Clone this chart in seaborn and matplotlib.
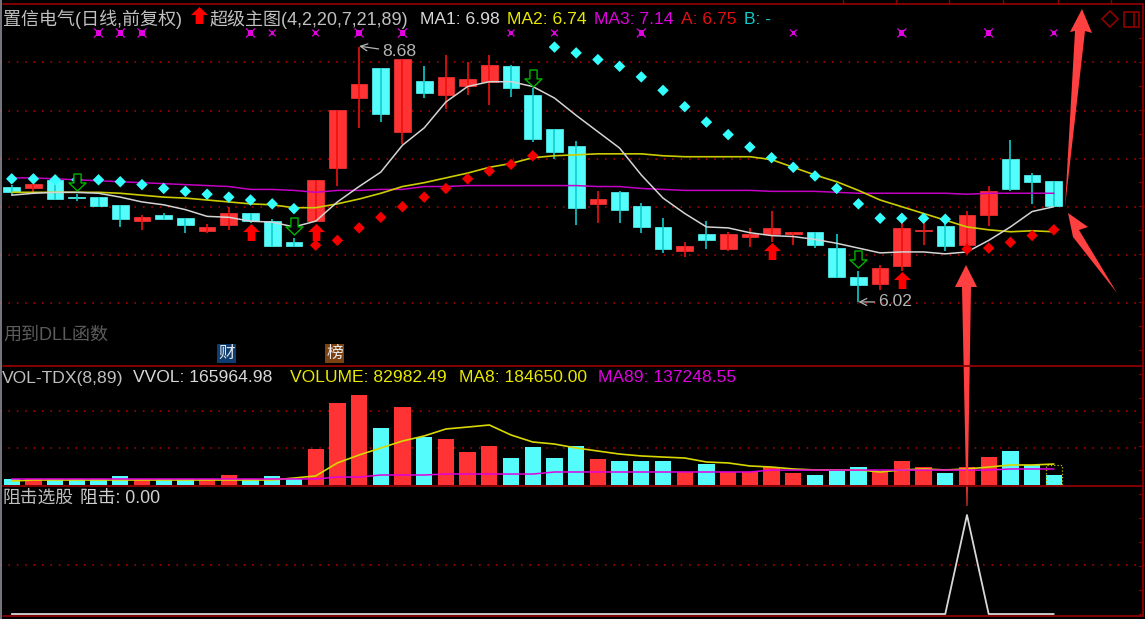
#import the neccessary libraries
import pandas as pd
import matplotlib
matplotlib.use('Agg')
import matplotlib.pyplot as plt
from matplotlib.path import Path
from matplotlib.patches import Polygon, Rectangle
import seaborn as sns

# daily candles
open_px = [7.23, 7.21, 7.30, 7.12, 7.12, 7.04, 6.87, 6.93, 6.90, 6.77,
           6.83, 6.95, 6.87, 6.65, 6.87, 7.42, 8.15, 8.46, 7.80, 8.33,
           8.18, 8.28, 8.32, 8.48, 8.18, 7.83, 7.65, 7.05, 7.17, 7.03,
           6.81, 6.56, 6.74, 6.58, 6.71, 6.74, 6.74, 6.76, 6.59, 6.29,
           6.22, 6.40, 6.77, 6.82, 6.62, 6.93, 7.52, 7.35, 7.29]
close_px = [7.17, 7.26, 7.10, 7.11, 7.03, 6.89, 6.91, 6.89, 6.83, 6.81,
            6.96, 6.87, 6.61, 6.61, 7.30, 8.03, 8.30, 7.98, 8.56, 8.20,
            8.37, 8.35, 8.49, 8.25, 7.72, 7.59, 7.01, 7.10, 6.99, 6.81,
            6.58, 6.61, 6.67, 6.74, 6.74, 6.80, 6.76, 6.62, 6.29, 6.21,
            6.38, 6.80, 6.78, 6.61, 6.93, 7.18, 7.20, 7.28, 7.03]
high_px = [7.25, 7.26, 7.33, 7.15, 7.12, 7.04, 6.93, 6.96, 6.90, 6.84,
           7.02, 6.95, 6.89, 6.70, 7.30, 8.03, 8.68, 8.46, 8.56, 8.48,
           8.60, 8.53, 8.60, 8.49, 8.25, 7.83, 7.70, 7.18, 7.18, 7.06,
           6.90, 6.65, 6.87, 6.76, 6.80, 6.98, 6.76, 6.76, 6.74, 6.35,
           6.41, 6.91, 6.90, 6.85, 6.98, 7.24, 7.71, 7.37, 7.29]
low_px = [7.14, 7.17, 7.09, 7.08, 7.02, 6.81, 6.78, 6.89, 6.75, 6.75,
          6.78, 6.85, 6.61, 6.60, 6.87, 7.24, 7.84, 7.90, 7.67, 8.15,
          8.04, 8.18, 8.08, 8.16, 7.69, 7.52, 6.83, 6.85, 6.85, 6.75,
          6.54, 6.50, 6.58, 6.56, 6.60, 6.65, 6.62, 6.59, 6.28, 6.03,
          6.15, 6.35, 6.62, 6.56, 6.53, 6.82, 7.18, 7.05, 7.02]

ma1 = [7.14, 7.16, 7.17, 7.17, 7.16, 7.12, 7.07, 7.04, 6.99, 6.92,
       6.91, 6.87, 6.86, 6.81, 6.87, 7.07, 7.23, 7.38, 7.66, 7.84,
       8.11, 8.27, 8.32, 8.32, 8.27, 8.15, 7.97, 7.80, 7.63, 7.35,
       7.11, 6.95, 6.81, 6.80, 6.75, 6.72, 6.71, 6.68, 6.64, 6.59,
       6.54, 6.55, 6.55, 6.53, 6.55, 6.67, 6.81, 6.97, 7.02]
ma2 = [7.17, 7.17, 7.17, 7.17, 7.17, 7.16, 7.14, 7.12, 7.11, 7.09,
       7.07, 7.05, 7.04, 7.01, 7.01, 7.05, 7.10, 7.16, 7.23, 7.27,
       7.32, 7.37, 7.43, 7.47, 7.53, 7.55, 7.56, 7.57, 7.57, 7.57,
       7.55, 7.54, 7.54, 7.54, 7.54, 7.51, 7.43, 7.35, 7.28, 7.19,
       7.09, 7.02, 6.95, 6.88, 6.81, 6.78, 6.76, 6.77, 6.76]
ma3 = [7.32, 7.32, 7.31, 7.30, 7.29, 7.28, 7.27, 7.26, 7.25, 7.24,
       7.23, 7.20, 7.20, 7.19, 7.17, 7.19, 7.19, 7.20, 7.20, 7.23,
       7.23, 7.24, 7.24, 7.24, 7.24, 7.24, 7.24, 7.23, 7.23, 7.21,
       7.20, 7.19, 7.19, 7.19, 7.19, 7.18, 7.18, 7.18, 7.17, 7.16,
       7.16, 7.16, 7.16, 7.16, 7.15, 7.16, 7.16, 7.16, 7.16]

# the diamond dots, cyan runs and red runs
sar = [7.31, 7.31, 7.30, 7.30, 7.30, 7.28, 7.25, 7.21, 7.18, 7.15, 7.12, 7.09, 7.05, 7.00,
       6.62, 6.67, 6.80, 6.91, 7.02, 7.12, 7.21, 7.31, 7.39, 7.46, 7.55,
       8.68, 8.62, 8.55, 8.48, 8.37, 8.23, 8.06, 7.90, 7.77, 7.64, 7.53, 7.43, 7.34, 7.21,
       7.05, 6.90, 6.90, 6.90, 6.89,
       6.58, 6.59, 6.65, 6.72, 6.78]
sar_side = ['c'] * 14 + ['r'] * 11 + ['c'] * 19 + ['r'] * 5

buy_idx = [11, 14, 35, 41]
buy_px = [6.76, 6.76, 6.56, 6.26]
sell_idx = [3, 13, 24, 39]
sell_px = [7.28, 6.82, 8.36, 6.48]
star_idx = [4, 5, 6, 11, 12, 14, 16, 18, 23, 25, 29, 36, 41, 45, 48]
star_big = [1, 1, 1, 1, 0, 0, 1, 1, 0, 0, 1, 0, 1, 1, 0]

volume = [50000, 50000, 50000, 50000, 50000, 75000, 50000, 50000, 50000, 50000,
          83000, 50000, 75000, 50000, 299000, 681000, 747000, 473000, 647000, 398000,
          382000, 274000, 324000, 224000, 315000, 224000, 324000, 216000, 199000, 199000,
          199000, 108000, 174000, 108000, 108000, 149000, 100000, 83000, 116000, 149000,
          108000, 199000, 149000, 100000, 149000, 232000, 282000, 166000, 83000]
vol_ma8 = [33000, 41500, 41500, 41500, 41500, 41500, 41500, 41500, 41500, 41500,
           41500, 41500, 41500, 58000, 75000, 183000, 249000, 307000, 365000, 407000,
           465000, 481000, 498000, 415000, 357000, 340000, 307000, 282000, 257000, 241000,
           232000, 224000, 191000, 183000, 158000, 149000, 133000, 125000, 125000, 125000,
           108000, 125000, 133000, 125000, 133000, 149000, 166000, 166000, 174000]
vol_ma89 = [50000] * 15 + [66000] * 2 + [83000] * 3 + [91000] * 5 + [108000] * 10 + [124000] * 11 + [133000] * 3
vvol_last = 165964

resist = [0] * 44 + [1] + [0] * 4

CYAN = '#54fcfc'
RED = '#ff3333'
FRAME = '#8c0000'
GRID = '#c00000'
XLIM = (-0.539, 52.2)

sns.set_style('dark')
plt.rcParams['font.family'] = ['Liberation Sans', 'Noto Sans CJK SC']
plt.rcParams['axes.unicode_minus'] = False

idx = list(range(len(close_px)))
df = pd.DataFrame({'i': idx, 'open': open_px, 'close': close_px, 'high': high_px, 'low': low_px,
                   'vol': volume})
df['up'] = df['close'] >= df['open']

fig = plt.figure(figsize=(11.45, 6.19), dpi=100, facecolor='black')
W, H = 1145, 619


def panel(y_top, y_bottom):
    a = fig.add_axes([0, 1 - y_bottom / H, 1, (y_bottom - y_top) / H])
    a.set_facecolor('black')
    a.set_xlim(*XLIM)
    for s in a.spines.values():
        s.set_visible(False)
    a.tick_params(left=False, bottom=False, labelleft=False, labelbottom=False)
    a.set_axisbelow(True)
    a.grid(False)
    return a


def dotted_grid(a, levels):
    a.set_yticks(levels)
    a.set_xticks([])
    a.grid(True, axis='y', color=GRID, linewidth=1.1, linestyle=(0, (1, 4.5)))


# price panel
ax = panel(4, 366)
for up, body, wick in [(True, RED, '#ee1111'), (False, CYAN, '#10cccc')]:
    d = df[df['up'] == up]
    ax.bar(d['i'], (d['close'] - d['open']).abs(), bottom=d[['open', 'close']].min(axis=1),
           width=0.77, color=body, edgecolor=body, linewidth=0.5, zorder=2)
    ax.vlines(d['i'], d['low'], d['high'], color=wick, linewidth=1.2, zorder=3)

sns.lineplot(x=idx, y=ma3, ax=ax, color='#c400c4', linewidth=1.1, estimator=None, zorder=4)
sns.lineplot(x=idx, y=ma2, ax=ax, color='#cccc00', linewidth=1.2, estimator=None, zorder=4)
sns.lineplot(x=idx, y=ma1, ax=ax, color='#d4d4d4', linewidth=1.1, estimator=None, zorder=4)
sns.scatterplot(x=idx, y=sar, hue=sar_side, palette={'c': '#33ffff', 'r': '#f20000'}, marker='D',
                s=34, linewidth=0, legend=False, ax=ax, zorder=5)

arrow_up = Path([(0, 1), (1, 0.05), (0.45, 0.05), (0.45, -1), (-0.45, -1), (-0.45, 0.05), (-1, 0.05), (0, 1)], closed=True)
arrow_down = Path([(0, -1), (1, -0.05), (0.42, -0.05), (0.42, 1), (-0.42, 1), (-0.42, -0.05), (-1, -0.05), (0, -1)], closed=True)
sns.scatterplot(x=buy_idx, y=buy_px, marker=arrow_up, s=150, color='#ff0000', linewidth=0, ax=ax, zorder=6)
sns.scatterplot(x=sell_idx, y=sell_px, marker=arrow_down, s=150, facecolor='black', edgecolor='#00b400',
                linewidth=1, ax=ax, zorder=6)
star_y = [8.827] * len(star_idx)
ax.scatter(star_idx, star_y, marker='x', s=[42 if b else 24 for b in star_big], color='#e000e0', linewidth=0.9, zorder=6)
ax.scatter(star_idx, star_y, marker='s', s=[14 if b else 6 for b in star_big], color='#e000e0', linewidth=0, zorder=6)

ax.annotate('8.68', xy=(16, 8.69), xytext=(17.05, 8.63), color='#b4b4b4', fontsize=12.6, va='center',
            arrowprops=dict(arrowstyle='->', color='#b4b4b4', lw=0.9, shrinkA=0, shrinkB=0))
ax.annotate('6.02', xy=(39, 6.03), xytext=(39.9, 6.03), color='#b4b4b4', fontsize=12.6, va='center',
            arrowprops=dict(arrowstyle='->', color='#b4b4b4', lw=0.9, shrinkA=0, shrinkB=0))
ax.set_ylim(5.364, 9.128)
dotted_grid(ax, [6.02, 6.52, 7.02, 7.52, 8.02, 8.52])

# volume panel
ax2 = panel(366, 486)
df['side'] = df['up'].map({True: 'r', False: 'c'})
sns.barplot(data=df, x='i', y='vol', hue='side', palette={'r': RED, 'c': CYAN}, dodge=False, native_scale=True,
            width=0.75, saturation=1, legend=False, linewidth=0, edgecolor='none', ax=ax2, zorder=2)
ax2.bar([idx[-1]], [vvol_last], width=0.75, fill=False, edgecolor='#b8b800', linewidth=0.9, linestyle=':', zorder=2)
sns.lineplot(x=idx, y=vol_ma8, ax=ax2, color='#d8d800', linewidth=1.2, estimator=None, zorder=3)
sns.lineplot(x=idx, y=vol_ma89, ax=ax2, color='#e000e0', linewidth=1.1, estimator=None, zorder=4)
ax2.set_xlim(*XLIM)
ax2.set_ylim(-8300, 987700)
ax2.set_xlabel('')
ax2.set_ylabel('')
dotted_grid(ax2, [307100, 614200])

# lower panel
ax3 = panel(486, 616)
sns.lineplot(x=idx, y=resist, ax=ax3, color='#d8d8d8', linewidth=1.3, estimator=None, zorder=3)
ax3.set_ylim(-0.02, 1.293)
dotted_grid(ax3, [0.5])

# overlay in picture pixels: frame, captions and the hand drawn arrows
ov = fig.add_axes([0, 0, 1, 1], zorder=10)
ov.set_xlim(0, W)
ov.set_ylim(H, 0)
ov.axis('off')
ov.patch.set_alpha(0)

for y in [4, 366, 486, 616]:
    ov.plot([3, 1143], [y, y], color=FRAME, lw=1.3)
ov.plot([1143, 1143], [4, 616], color=FRAME, lw=1.3)
ov.plot([1, 1], [0, 619], color='#8c8c96', lw=1.2)
for x in [843, 896, 949, 1003, 1058, 1111]:
    ov.plot([x, x], [0, 4], color=FRAME, lw=1)
for k in range(25):
    ov.plot([1139, 1143], [38 + 24 * k] * 2, color=FRAME, lw=0.8)

captions = [
    (3, 19, '置信电气(日线,前复权)', '#c0c0c0', 13),
    (210, 19, '超级主图(4,2,20,7,21,89)', '#c0c0c0', 13),
    (420, 19, 'MA1: 6.98', '#d8d8d8', 12.6),
    (507, 19, 'MA2: 6.74', '#e8e800', 12.6),
    (594, 19, 'MA3: 7.14', '#e000e0', 12.6),
    (681, 19, 'A: 6.75', '#e01010', 12.6),
    (744, 19, 'B: -', '#10c8c8', 12.6),
    (2, 378, 'VOL-TDX(8,89)', '#c0c0c0', 12.6),
    (133, 378, 'VVOL: 165964.98', '#d8d8d8', 12.6),
    (290, 378, 'VOLUME: 82982.49', '#e8e800', 12.6),
    (459, 378, 'MA8: 184650.00', '#e8e800', 12.6),
    (598, 378, 'MA89: 137248.55', '#e000e0', 12.6),
    (2, 498, '阻击选股', '#c0c0c0', 12.8),
    (80, 498, '阻击: 0.00', '#d0d0d0', 12.8),
    (3, 335, '用到DLL函数', '#5c5c5c', 13),
]
for x, y, label, col, size in captions:
    ov.text(x, y, label, color=col, fontsize=size, va='center', ha='left')

for x, label, col in [(217, '财', '#0f3c70'), (325, '榜', '#7c4212')]:
    ov.add_patch(Rectangle((x, 344), 19, 19, facecolor=col, edgecolor='none'))
    ov.text(x + 9.5, 353.5, label, color='#e8e8e8', fontsize=12, ha='center', va='center')

ov.scatter([199], [15], marker=arrow_up, s=150, color='#ff0000', linewidth=0)

# top right buttons
ov.add_patch(Polygon([(1110, 11), (1118, 19), (1110, 27), (1102, 19)], fill=False, edgecolor=FRAME, lw=1.2))
ov.add_patch(Rectangle((1124, 12), 15, 15, fill=False, edgecolor=FRAME, lw=1.2))
ov.plot([1134, 1134], [12, 27], color=FRAME, lw=1.2)

ARROW = '#ff4040'
ov.add_patch(Polygon([(966, 265), (977, 287), (971, 287), (967.5, 506), (966.5, 506), (962, 287), (955, 287)],
                     facecolor=ARROW, edgecolor='none'))
ov.add_patch(Polygon([(1082, 9), (1092, 33), (1085, 31), (1065, 207), (1075, 31), (1070, 32)],
                     facecolor=ARROW, edgecolor='none'))
ov.add_patch(Polygon([(1068, 213), (1088, 227), (1079, 230), (1117, 293), (1073, 237)],
                     facecolor=ARROW, edgecolor='none'))

fig.savefig('out.png', dpi=100, facecolor='black')
